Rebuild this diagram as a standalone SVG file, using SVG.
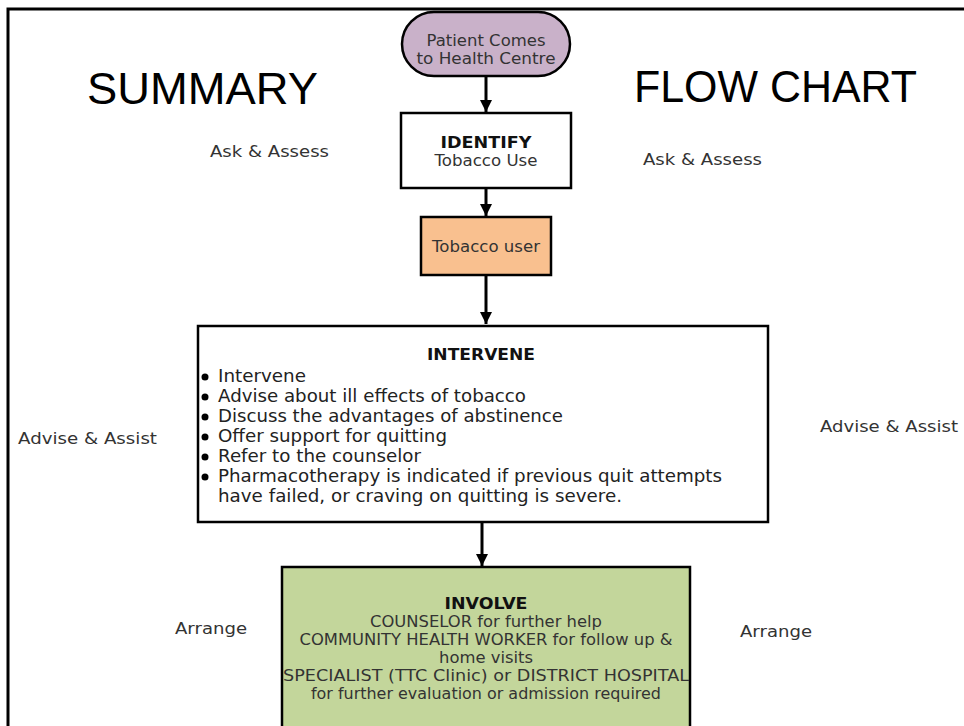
<svg xmlns="http://www.w3.org/2000/svg" width="964" height="726" viewBox="0 0 964 726">
<defs>
<marker id="ah" viewBox="0 0 10 10" refX="10" refY="5" markerWidth="4" markerHeight="4" markerUnits="strokeWidth" orient="auto">
<path d="M0,0 L10,5 L0,10 z" fill="#000"/>
</marker>
<style>
.box{stroke:#000;stroke-width:2.5}
.t{font-family:"DejaVu Sans",Verdana,sans-serif;font-size:15.8px;fill:#333}
.h{font-family:"DejaVu Sans",Verdana,sans-serif;font-size:16.5px;font-weight:bold;fill:#111}
.l{font-family:"DejaVu Sans",Verdana,sans-serif;font-size:17.5px;fill:#222}
.side{font-family:"DejaVu Sans",sans-serif;font-size:16.5px;fill:#333}
.big{font-family:"Liberation Sans",Arial,sans-serif;font-size:44px;fill:#000}
.c{stroke:#000;stroke-width:3;fill:none}
</style>
</defs>
<rect width="964" height="726" fill="#fff"/>
<path d="M8,726 V9 H964" fill="none" stroke="#000" stroke-width="3"/>
<text class="big" x="87" y="104" textLength="231" lengthAdjust="spacingAndGlyphs">SUMMARY</text>
<text class="big" x="634" y="102" textLength="283" lengthAdjust="spacingAndGlyphs">FLOW CHART</text>
<text class="side" x="210" y="157" textLength="119" lengthAdjust="spacingAndGlyphs">Ask &amp; Assess</text>
<text class="side" x="643" y="165" textLength="119" lengthAdjust="spacingAndGlyphs">Ask &amp; Assess</text>
<text class="side" x="18" y="444" textLength="139" lengthAdjust="spacingAndGlyphs">Advise &amp; Assist</text>
<text class="side" x="820" y="432" textLength="138" lengthAdjust="spacingAndGlyphs">Advise &amp; Assist</text>
<text class="side" x="175" y="634" textLength="72" lengthAdjust="spacingAndGlyphs">Arrange</text>
<text class="side" x="740" y="637" textLength="72" lengthAdjust="spacingAndGlyphs">Arrange</text>
<g id="connectors">
<line class="c" x1="486" y1="76" x2="486" y2="112" marker-end="url(#ah)"/>
<line class="c" x1="486" y1="188" x2="486" y2="216" marker-end="url(#ah)"/>
<line class="c" x1="486" y1="275" x2="486" y2="324" marker-end="url(#ah)"/>
<line class="c" x1="482" y1="522" x2="482" y2="566" marker-end="url(#ah)"/>
</g>
<g id="start">
<rect class="box" x="402" y="12" width="168" height="64" rx="32" fill="#c9b1c9"/>
<text class="t" x="486" y="46" text-anchor="middle" textLength="119" lengthAdjust="spacingAndGlyphs">Patient Comes</text>
<text class="t" x="486" y="64" text-anchor="middle" textLength="139" lengthAdjust="spacingAndGlyphs">to Health Centre</text>
</g>
<g id="identify">
<rect class="box" x="401" y="113" width="170" height="75" fill="#fff"/>
<text class="h" x="486" y="148" text-anchor="middle" textLength="91" lengthAdjust="spacingAndGlyphs">IDENTIFY</text>
<text class="t" x="486" y="166" text-anchor="middle" textLength="103" lengthAdjust="spacingAndGlyphs">Tobacco Use</text>
</g>
<g id="user">
<rect class="box" x="421" y="217" width="130" height="58" fill="#f9c08f"/>
<text class="t" x="486" y="252" text-anchor="middle" textLength="108" lengthAdjust="spacingAndGlyphs">Tobacco user</text>
</g>
<g id="intervene">
<rect class="box" x="198" y="326" width="570" height="196" fill="#fff"/>
<text class="h" x="481" y="360" text-anchor="middle" textLength="108" lengthAdjust="spacingAndGlyphs">INTERVENE</text>
<g fill="#000">
<circle cx="205" cy="377" r="3.5"/>
<circle cx="205" cy="397" r="3.5"/>
<circle cx="205" cy="417" r="3.5"/>
<circle cx="205" cy="437" r="3.5"/>
<circle cx="205" cy="457" r="3.5"/>
<circle cx="205" cy="477" r="3.5"/>
</g>
<text class="l" x="218" y="382" textLength="88" lengthAdjust="spacingAndGlyphs">Intervene</text>
<text class="l" x="218" y="402" textLength="308" lengthAdjust="spacingAndGlyphs">Advise about ill effects of tobacco</text>
<text class="l" x="218" y="422" textLength="345" lengthAdjust="spacingAndGlyphs">Discuss the advantages of abstinence</text>
<text class="l" x="218" y="442" textLength="229" lengthAdjust="spacingAndGlyphs">Offer support for quitting</text>
<text class="l" x="218" y="462" textLength="203" lengthAdjust="spacingAndGlyphs">Refer to the counselor</text>
<text class="l" x="218" y="482" textLength="504" lengthAdjust="spacingAndGlyphs">Pharmacotherapy is indicated if previous quit attempts</text>
<text class="l" x="218" y="502" textLength="404" lengthAdjust="spacingAndGlyphs">have failed, or craving on quitting is severe.</text>
</g>
<g id="involve">
<rect class="box" x="282" y="567" width="408" height="175" fill="#c3d69b"/>
<text class="h" x="486" y="609" text-anchor="middle" textLength="83" lengthAdjust="spacingAndGlyphs">INVOLVE</text>
<text class="t" x="486" y="627" text-anchor="middle" textLength="232" lengthAdjust="spacingAndGlyphs">COUNSELOR for further help</text>
<text class="t" x="486" y="645" text-anchor="middle" textLength="373" lengthAdjust="spacingAndGlyphs">COMMUNITY HEALTH WORKER for follow up &amp;</text>
<text class="t" x="486" y="663" text-anchor="middle" textLength="94" lengthAdjust="spacingAndGlyphs">home visits</text>
<text class="t" x="486" y="681" text-anchor="middle" textLength="406" lengthAdjust="spacingAndGlyphs">SPECIALIST (TTC Clinic) or DISTRICT HOSPITAL</text>
<text class="t" x="486" y="699" text-anchor="middle" textLength="350" lengthAdjust="spacingAndGlyphs">for further evaluation or admission required</text>
</g>
</svg>
